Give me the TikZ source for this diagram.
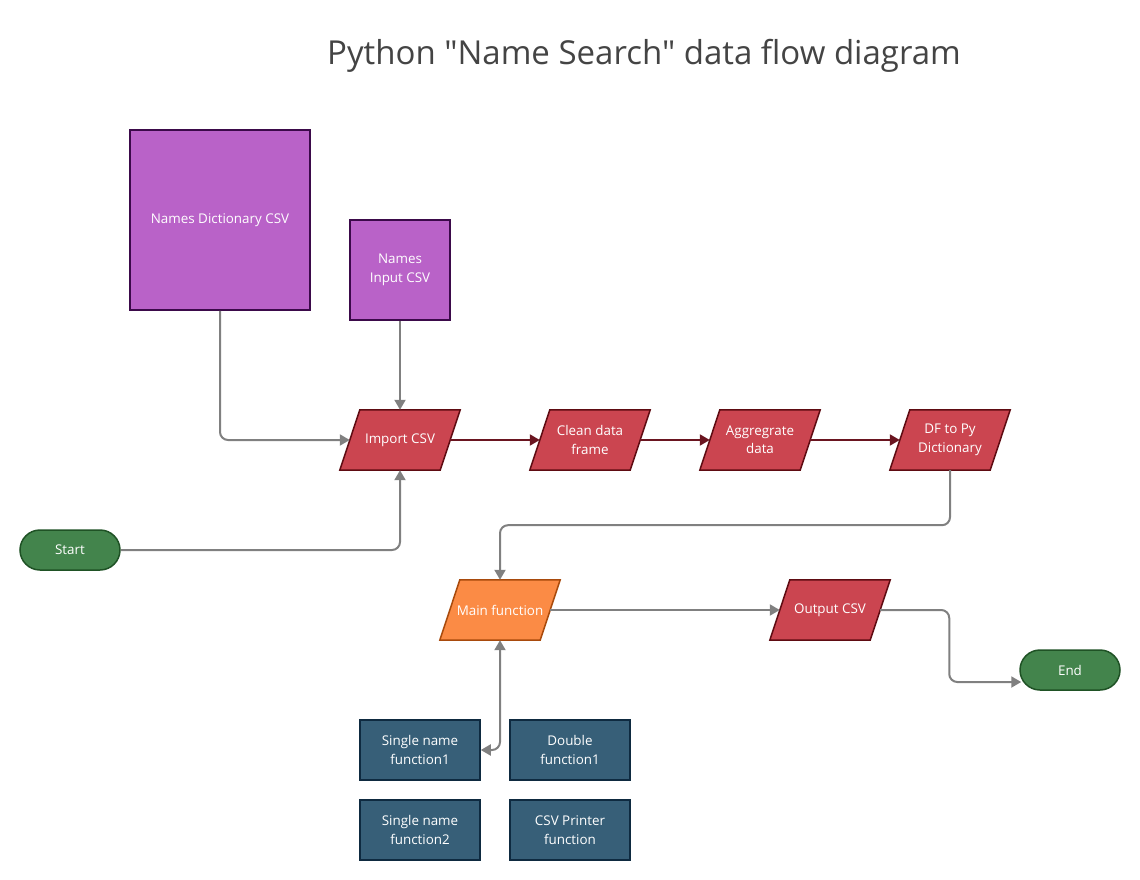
\documentclass[tikz,border=0pt]{standalone}
\usepackage{fontspec}
\setmainfont{Open Sans}
\newfontfamily\titlefont{Open Sans}
\usetikzlibrary{arrows.meta,calc,backgrounds}
\definecolor{purpfill}{HTML}{B962C8}
\definecolor{purpline}{HTML}{3B0A4A}
\definecolor{redfill}{HTML}{CB4550}
\definecolor{redline}{HTML}{5E0B12}
\definecolor{orfill}{HTML}{FB8B45}
\definecolor{orline}{HTML}{A84A0C}
\definecolor{grfill}{HTML}{43844C}
\definecolor{grline}{HTML}{1F5225}
\definecolor{blfill}{HTML}{375F78}
\definecolor{blline}{HTML}{0E2A40}
\definecolor{arrgray}{HTML}{808080}
\definecolor{arrred}{HTML}{6A1520}
\definecolor{titlegray}{HTML}{444444}
\tikzset{
  lbl/.style={text=white,align=center,font=\fontsize{13.4}{18.5}\selectfont,inner sep=0pt},
  datastore/.style={lbl,draw=purpline,fill=purpfill,line width=1.5pt},
  procbox/.style={lbl,minimum width=100pt,minimum height=60pt},
  pill/.style={lbl,draw=grline,fill=grfill,line width=1.5pt,minimum width=100pt,minimum height=40pt,rounded corners=20pt},
  funcbox/.style={lbl,draw=blline,fill=blfill,line width=1.5pt,minimum width=120pt,minimum height=60pt},
  garrow/.style={draw=arrgray,line width=2pt,rounded corners=8pt,-{Triangle[length=10pt,width=11pt]}},
  rarrow/.style={draw=arrred,line width=2pt,-{Triangle[length=10pt,width=11pt]}},
}
\newcommand{\parashape}[3]{%
  \begin{scope}[on background layer]
  \draw[fill=#2,draw=#3,line width=1.5pt] ($(#1.north west)+(10,0)$) -- ($(#1.north east)+(10,0)$) -- ($(#1.south east)+(-10,0)$) -- ($(#1.south west)+(-10,0)$) -- cycle;
  \end{scope}}
\begin{document}
\begin{tikzpicture}[x=1pt,y=-1pt]
\useasboundingbox (0,0) rectangle (1140,880);
\node[text=titlegray,font=\titlefont\fontsize{33}{38}\selectfont] (title) at (644,56) {Python "Name Search" data flow diagram};

\node[datastore,minimum width=180pt,minimum height=180pt] (nd) at (220,220) {Names Dictionary CSV};
\node[datastore,minimum width=100pt,minimum height=100pt] (ni) at (400,270) {Names\\Input CSV};

\node[procbox] (imp) at (400,440) {Import CSV};
\node[procbox] (clean) at (590,440) {Clean data\\frame};
\node[procbox] (agg) at (760,440) {Aggregrate\\data};
\node[procbox] (df) at (950,440) {DF to Py\\Dictionary};
\node[procbox] (main) at (500,610) {Main function};
\node[procbox] (out) at (830,610) {Output CSV};
\parashape{imp}{redfill}{redline}
\parashape{clean}{redfill}{redline}
\parashape{agg}{redfill}{redline}
\parashape{df}{redfill}{redline}
\parashape{main}{orfill}{orline}
\parashape{out}{redfill}{redline}

\node[pill] (start) at (70,550) {Start};
\node[pill] (endn) at (1070,670) {End};

\node[funcbox] (sn1) at (420,750) {Single name\\function1};
\node[funcbox] (dbl) at (570,750) {Double\\function1};
\node[funcbox] (sn2) at (420,830) {Single name\\function2};
\node[funcbox] (csvp) at (570,830) {CSV Printer\\function};

\draw[garrow] (nd.south) |- (imp);
\draw[garrow] (ni.south) -- (imp.north);
\draw[garrow] (start.east) -| (imp.south);
\draw[rarrow] (imp) -- (clean);
\draw[rarrow] (clean) -- (agg);
\draw[rarrow] (agg) -- (df);
\draw[garrow] (df.south) -- ++(0,55) -| (main.north);
\draw[garrow] (main) -- (out);
\coordinate (ecorner) at ($(endn.west)+(-70,12)$);
\draw[garrow] (out.east) -| (ecorner) -- ($(endn.west)+(2,12)$);
\draw[garrow,{Triangle[length=10pt,width=11pt]}-{Triangle[length=10pt,width=11pt]}] (main.south) |- (sn1.east);
\end{tikzpicture}
\end{document}
